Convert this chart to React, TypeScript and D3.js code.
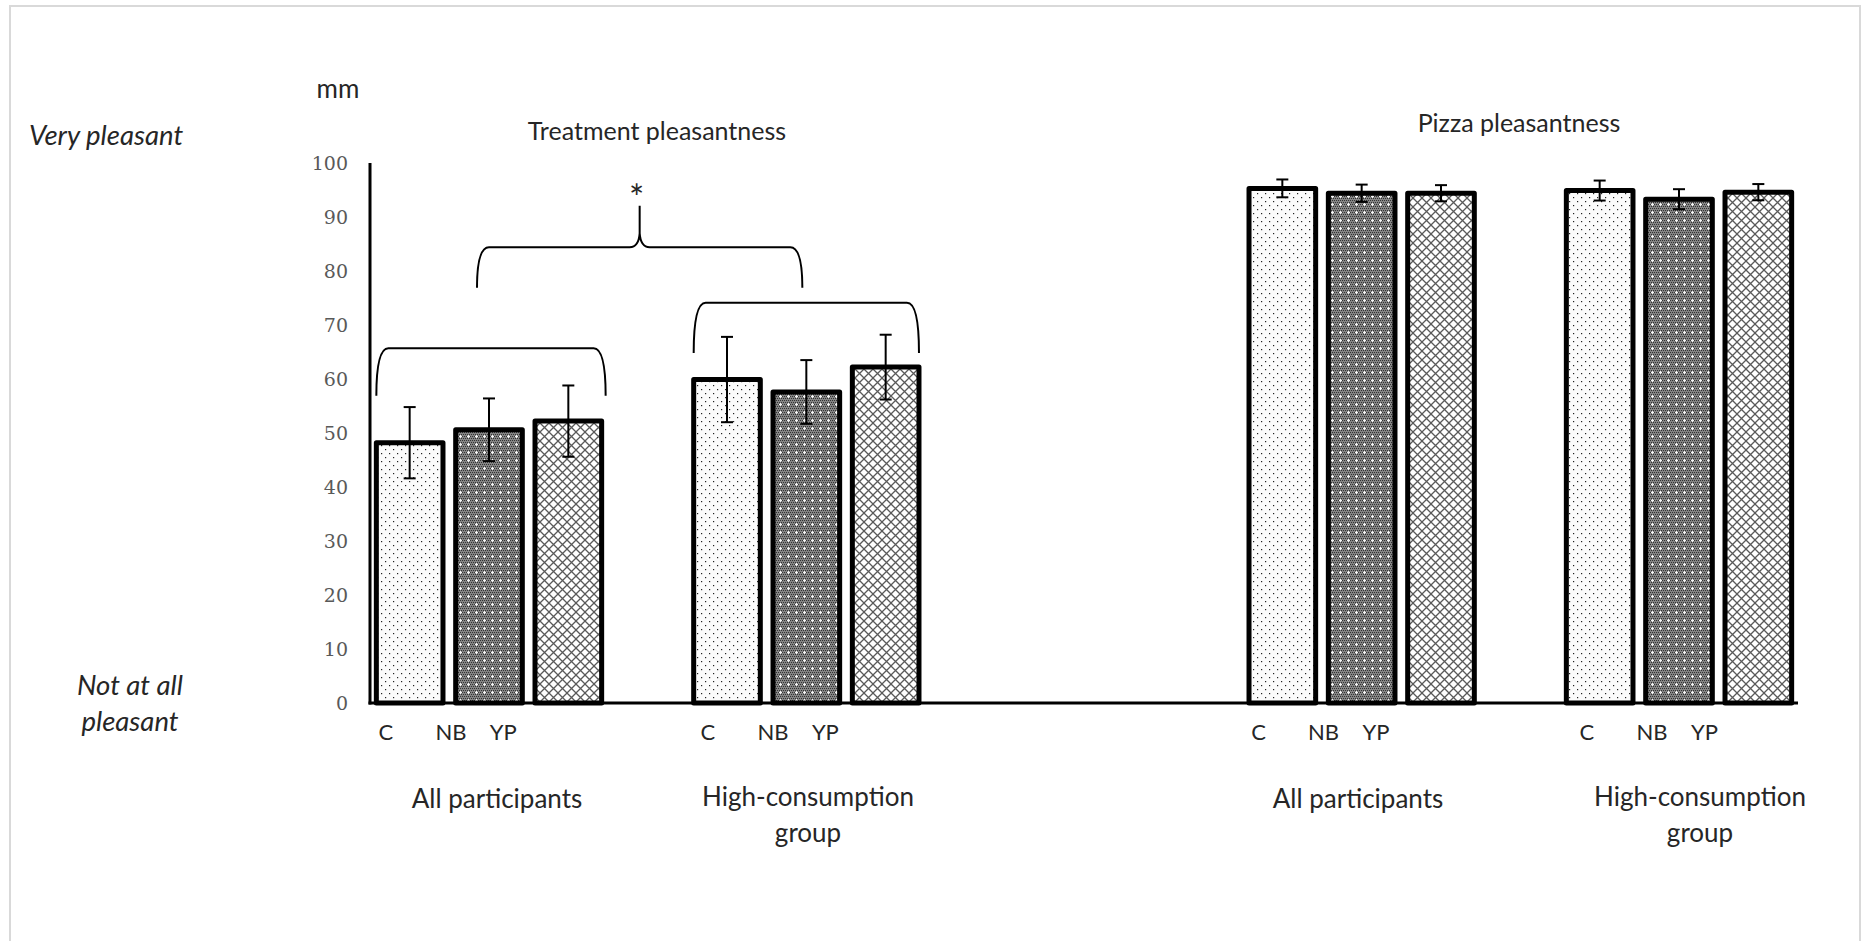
import React from "react";
import * as d3 from "d3";

// panels and groups
const panels = ["Treatment pleasantness", "Pizza pleasantness"];
const groupNames = [
    "All participants",
    "High-consumption group",
    "All participants",
    "High-consumption group",
];
const treatments = ["C", "NB", "YP"];

// means (mm) per group, order C, NB, YP
const treatmentAll = [48.2, 50.6, 52.2];
const treatmentHigh = [59.9, 57.6, 62.2];
const pizzaAll = [95.3, 94.4, 94.4];
const pizzaHigh = [94.9, 93.3, 94.6];

// error bar half-lengths
const treatmentAllErr = [6.6, 5.8, 6.6];
const treatmentHighErr = [7.9, 5.9, 6.0];
const pizzaAllErr = [1.65, 1.6, 1.5];
const pizzaHighErr = [1.85, 1.85, 1.5];

const yTicks = [0, 10, 20, 30, 40, 50, 60, 70, 80, 90, 100];

const groupValues = [treatmentAll, treatmentHigh, pizzaAll, pizzaHigh];
const groupErrors = [treatmentAllErr, treatmentHighErr, pizzaAllErr, pizzaHighErr];

// category slots on the x axis (18 slots, blanks between groups)
const groupSlots = [0, 4, 11, 15];
const slotCount = 18;

const W = 1864;
const H = 941;
const font = "Lato, 'Open Sans', sans-serif";
const textColor = "#262626";

export default function App() {
    const x = d3
        .scaleBand<number>()
        .domain(d3.range(slotCount))
        .range([370, 1798])
        .paddingInner(0.16)
        .paddingOuter(0.08);
    const y = d3.scaleLinear().domain([0, 100]).range([703, 163]);
    const bw = x.bandwidth();
    const step = x.step();

    const patternIds = ["patC", "patNB", "patYP"];

    // label x offsets (in slot steps) for C / NB / YP text boxes
    const labelOffsets = [0.12, 0.94, 1.6];
    const labelShift = [0, 0.06, 0, 0.14];

    const groupStart = (g: number) => x(groupSlots[g]) as number;
    const groupEnd = (g: number) => (x(groupSlots[g] + 2) as number) + bw;

    const bracket = (x0: number, x1: number, yt: number, yb: number) => {
        const r = 12;
        return `M${x0},${yb} Q${x0},${yt} ${x0 + r},${yt} L${x1 - r},${yt} Q${x1},${yt} ${x1},${yb}`;
    };

    const bigBracket = (x0: number, x1: number, yt: number, yb: number, yp: number) => {
        const r = 12;
        const xm = (x0 + x1) / 2;
        return (
            `M${x0},${yb} Q${x0},${yt} ${x0 + r},${yt} L${xm - 10},${yt} ` +
            `Q${xm - 1},${yt} ${xm},${yt - 14} L${xm},${yp} ` +
            `M${xm},${yt - 14} Q${xm + 1},${yt} ${xm + 10},${yt} ` +
            `L${x1 - r},${yt} Q${x1},${yt} ${x1},${yb}`
        );
    };

    const bxA0 = groupStart(0);
    const bxA1 = groupEnd(0) + 4;
    const bxB0 = groupStart(1);
    const bxB1 = groupEnd(1);
    const bigX0 = (bxA0 + bxA1) / 2 - 14;
    const bigX1 = (bxB0 + bxB1) / 2 - 4;

    return (
        <svg
            width={W}
            height={H}
            style={{ position: "absolute", left: 0, top: 0, background: "#fff" }}
        >
            <defs>
                <pattern id="patC" width={8} height={8} patternUnits="userSpaceOnUse">
                    <rect width={8} height={8} fill="#fbfbfb" />
                    <rect x={1} y={1} width={1.2} height={1.2} fill="#222" />
                    <rect x={5} y={5} width={1.2} height={1.2} fill="#222" />
                </pattern>
                <pattern id="patNB" width={8} height={8} patternUnits="userSpaceOnUse">
                    <rect width={8} height={8} fill="#858585" />
                    <path d="M0,0h1v1h-1zM2,0h1v1h-1zM4,0h1v1h-1zM6,0h1v1h-1zM1,2h1v1h-1zM3,2h1v1h-1zM5,2h1v1h-1zM7,2h1v1h-1zM0,4h1v1h-1zM2,4h1v1h-1zM6,4h1v1h-1zM1,6h1v1h-1zM3,6h1v1h-1zM5,6h1v1h-1zM7,6h1v1h-1z" fill="#333" />
                    <path d="M4,3h1v3h-1zM3,4h3v1h-3z" fill="#f4f4f4" />
                </pattern>
                <pattern id="patYP" width={9} height={9} patternUnits="userSpaceOnUse">
                    <rect width={9} height={9} fill="#ffffff" />
                    <path d="M0,0L9,9M9,0L0,9" stroke="#5a5a5a" strokeWidth={1.3} />
                </pattern>
            </defs>

            {/* outer frame */}
            <rect x={10} y={6} width={1850} height={980} fill="none" stroke="#d9d9d9" strokeWidth={2} />

            {/* y tick labels */}
            {yTicks.map((t) => (
                <text
                    key={t}
                    x={348}
                    y={y(t)}
                    dy="0.36em"
                    textAnchor="end"
                    fontFamily="'DejaVu Serif', serif"
                    fontSize={19}
                    fill="#595959"
                >
                    {t}
                </text>
            ))}

            <text x={338} y={98} textAnchor="middle" fontFamily={font} fontSize={26} fill={textColor}>
                mm
            </text>
            <text x={29} y={145} fontFamily={font} fontStyle="italic" fontSize={27.5} fill={textColor}>
                Very pleasant
            </text>
            <text x={130} y={695} textAnchor="middle" fontFamily={font} fontStyle="italic" fontSize={27.5} fill={textColor}>
                Not at all
            </text>
            <text x={130} y={731} textAnchor="middle" fontFamily={font} fontStyle="italic" fontSize={27.5} fill={textColor}>
                pleasant
            </text>

            {/* panel titles */}
            <text x={657} y={140} textAnchor="middle" fontFamily={font} fontSize={25} fill={textColor}>
                {panels[0]}
            </text>
            <text x={1519} y={132} textAnchor="middle" fontFamily={font} fontSize={25} fill={textColor}>
                {panels[1]}
            </text>

            {/* bars */}
            {groupValues.map((vals, g) =>
                vals.map((v, i) => {
                    const bx = x(groupSlots[g] + i) as number;
                    return (
                        <rect
                            key={`b${g}-${i}`}
                            x={bx}
                            y={y(v)}
                            width={bw}
                            height={y(0) - y(v)}
                            fill={`url(#${patternIds[i]})`}
                            stroke="#000"
                            strokeWidth={5}
                            strokeLinejoin="round"
                        />
                    );
                })
            )}

            {/* error bars */}
            {groupValues.map((vals, g) =>
                vals.map((v, i) => {
                    const cx = (x(groupSlots[g] + i) as number) + bw / 2;
                    const e = groupErrors[g][i];
                    return (
                        <g key={`e${g}-${i}`} stroke="#000" strokeWidth={2}>
                            <line x1={cx} x2={cx} y1={y(v + e)} y2={y(v - e)} />
                            <line x1={cx - 6} x2={cx + 6} y1={y(v + e)} y2={y(v + e)} />
                            <line x1={cx - 6} x2={cx + 6} y1={y(v - e)} y2={y(v - e)} />
                        </g>
                    );
                })
            )}

            {/* axes */}
            <line x1={370} x2={370} y1={y(100)} y2={y(0) + 1.5} stroke="#000" strokeWidth={3} />
            <line x1={368.5} x2={1798} y1={y(0)} y2={y(0)} stroke="#000" strokeWidth={3} />

            {/* category labels */}
            {groupSlots.map((s, g) =>
                treatments.map((t, i) => (
                    <text
                        key={`c${g}-${i}`}
                        x={groupStart(g) + (labelOffsets[i] + labelShift[g]) * step}
                        y={740}
                        textAnchor="middle"
                        fontFamily={font}
                        fontSize={22}
                        fill={textColor}
                    >
                        {t}
                    </text>
                ))
            )}

            {/* group labels */}
            {groupNames.map((name, g) => {
                const cx = [497, 808, 1358, 1700][g];
                const words = name.startsWith("High") ? ["High-consumption", "group"] : [name];
                return words.map((w, k) => (
                    <text
                        key={`g${g}-${k}`}
                        x={cx}
                        y={(name.startsWith("High") ? 806 : 808) + k * 36}
                        textAnchor="middle"
                        fontFamily={font}
                        fontSize={26}
                        fill={textColor}
                    >
                        {w}
                    </text>
                ));
            })}

            {/* significance brackets */}
            <g fill="none" stroke="#000" strokeWidth={2}>
                <path d={bracket(bxA0, bxA1, y(65.7), y(56.9))} />
                <path d={bracket(bxB0, bxB1, y(74.1), y(64.8))} />
                <path d={bigBracket(bigX0, bigX1, y(84.4), y(76.9), y(92.1))} />
            </g>
            <text
                x={(bigX0 + bigX1) / 2 - 3}
                y={211}
                textAnchor="middle"
                fontFamily={font}
                fontSize={36}
                fill={textColor}
            >
                *
            </text>
        </svg>
    );
}
